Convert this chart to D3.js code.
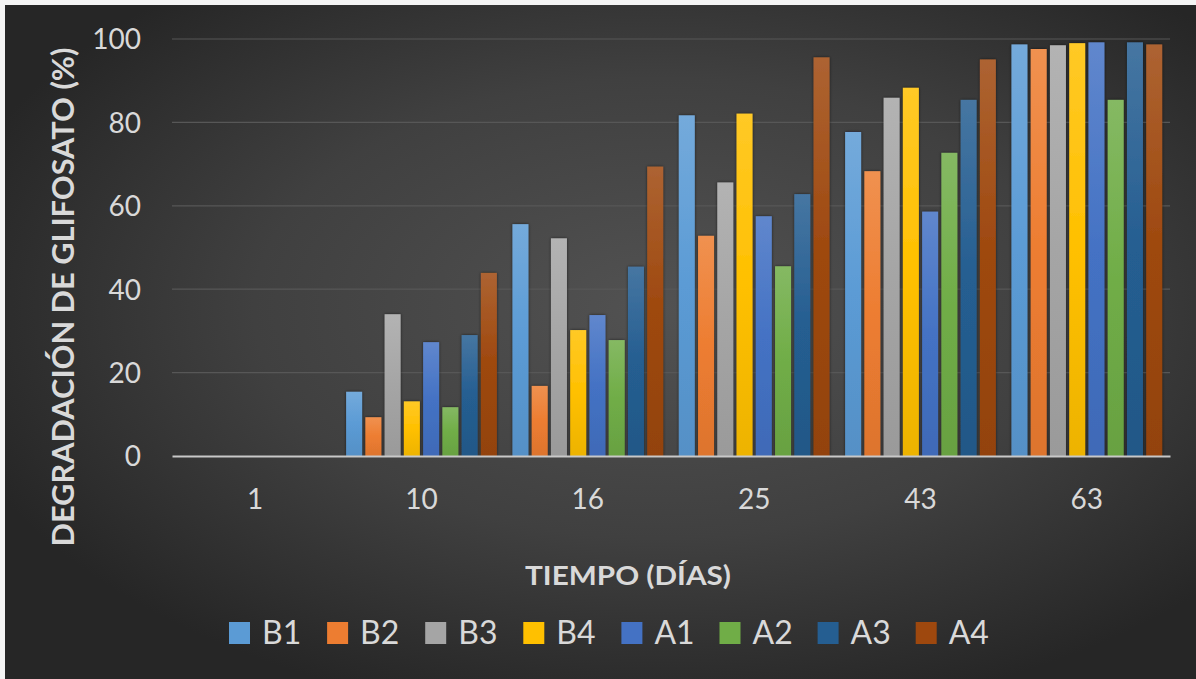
<!DOCTYPE html>
<html>
<head>
<meta charset="utf-8">
<script src="https://cdn.jsdelivr.net/npm/d3@7"></script>
<style>
  body { margin: 0; background: #f4f4f4; }
  svg { display: block; }
</style>
</head>
<body>
<div id="chart-area"></div>
<script>
// data
const dias = ["1", "10", "16", "25", "43", "63"];
const series = ["B1", "B2", "B3", "B4", "A1", "A2", "A3", "A4"];
const colors = ["#5B9BD5", "#ED7D31", "#A5A5A5", "#FFC000", "#4472C4", "#70AD47", "#255E91", "#9E480E"];
const B1 = [0, 15.4, 55.6, 81.7, 77.7, 98.7];
const B2 = [0, 9.3, 16.8, 52.8, 68.3, 97.6];
const B3 = [0, 34.0, 52.2, 65.6, 85.9, 98.5];
const B4 = [0, 13.1, 30.2, 82.1, 88.3, 99.0];
const A1 = [0, 27.3, 33.8, 57.5, 58.6, 99.2];
const A2 = [0, 11.7, 27.8, 45.5, 72.7, 85.4];
const A3 = [0, 29.0, 45.4, 62.8, 85.4, 99.2];
const A4 = [0, 43.9, 69.4, 95.6, 95.1, 98.7];
const yTicks = [0, 20, 40, 60, 80, 100];

const values = [B1, B2, B3, B4, A1, A2, A3, A4];

const W = 1196, H = 679;
const plot = { left: 172, right: 1170, top: 39, bottom: 456 };
const textColor = "#d9d9d9";
const font = "Lato, 'Open Sans', sans-serif";

var svg = d3.select("#chart-area")
	.append("svg")
		.attr("width", W)
		.attr("height", H);

var defs = svg.append("defs");

// background radial gradient
var bg = defs.append("radialGradient")
	.attr("id", "bg")
	.attr("cx", "55%").attr("cy", "45%").attr("r", "62%");
bg.append("stop").attr("offset", "0%").attr("stop-color", "#525252");
bg.append("stop").attr("offset", "55%").attr("stop-color", "#404040");
bg.append("stop").attr("offset", "100%").attr("stop-color", "#262626");

// bar gradients
series.forEach((s, i) => {
	var c = d3.color(colors[i]);
	var g = defs.append("linearGradient")
		.attr("id", "grad-" + s)
		.attr("x1", 0).attr("y1", 0).attr("x2", 0).attr("y2", 1);
	g.append("stop").attr("offset", "0%").attr("stop-color", d3.interpolateRgb(c, "#fff")(0.15));
	g.append("stop").attr("offset", "50%").attr("stop-color", c);
	g.append("stop").attr("offset", "100%").attr("stop-color", c.darker(0.2));
});

var shadow = defs.append("filter").attr("id", "shadow")
	.attr("x", "-30%").attr("y", "-5%").attr("width", "160%").attr("height", "110%");
shadow.append("feDropShadow")
	.attr("dx", 0).attr("dy", 0)
	.attr("stdDeviation", 1.6)
	.attr("flood-color", "#000")
	.attr("flood-opacity", 0.6);

svg.append("rect")
	.attr("x", 5).attr("y", 5)
	.attr("width", W - 5).attr("height", H - 5)
	.attr("fill", "url(#bg)");

// scales
var x0 = d3.scaleBand()
	.domain(dias)
	.range([plot.left, plot.right]);

var bw = x0.bandwidth();
var x1 = d3.scaleBand()
	.domain(series)
	.range([7.8, bw - 7.8])
	.paddingInner(0.17);

var y = d3.scaleLinear()
	.domain([0, 100])
	.range([plot.bottom, plot.top]);

// gridlines
svg.append("g")
	.selectAll("line")
	.data(yTicks.filter(d => d > 0))
	.enter()
	.append("line")
		.attr("x1", plot.left).attr("x2", plot.right)
		.attr("y1", d => y(d)).attr("y2", d => y(d))
		.attr("stroke", "#575757")
		.attr("stroke-width", 1.2);

// y-axis
var yAxisCall = d3.axisLeft(y).tickValues(yTicks).tickSize(0).tickPadding(0);
var yAxis = svg.append("g")
	.attr("transform", "translate(141, 0)")
	.call(yAxisCall);
yAxis.select(".domain").remove();
yAxis.selectAll("text")
	.attr("fill", textColor)
	.attr("font-family", font)
	.attr("font-size", 28)
	.attr("dy", "0.35em");

// bars
var groups = svg.append("g")
	.selectAll("g")
	.data(dias)
	.enter()
	.append("g")
		.attr("transform", d => "translate(" + x0(d) + ", 0)");

groups.selectAll("rect")
	.data((d, j) => series.map((s, i) => ({ s: s, v: values[i][j] })))
	.enter()
	.append("rect")
		.filter(d => d.v > 0)
		.attr("x", d => x1(d.s))
		.attr("y", d => y(d.v))
		.attr("width", x1.bandwidth())
		.attr("height", d => y(0) - y(d.v))
		.attr("fill", d => "url(#grad-" + d.s + ")")
		.attr("filter", "url(#shadow)");

// x-axis
var xAxisCall = d3.axisBottom(x0).tickSize(0).tickPadding(0);
var xAxis = svg.append("g")
	.attr("transform", "translate(0, " + y(0) + ")")
	.call(xAxisCall);
xAxis.select(".domain")
	.attr("stroke", "#c8c8c8")
	.attr("stroke-width", 2.2);
xAxis.selectAll("text")
	.attr("fill", textColor)
	.attr("font-family", font)
	.attr("font-size", 28)
	.attr("dy", 0)
	.attr("y", 53);

// y-label
svg.append("text")
	.attr("x", -297)
	.attr("y", 74)
	.attr("transform", "rotate(-90)")
	.attr("text-anchor", "middle")
	.attr("fill", textColor)
	.attr("font-family", font)
	.attr("font-weight", "bold")
	.attr("font-size", 30)
	.attr("textLength", 499)
	.attr("lengthAdjust", "spacingAndGlyphs")
	.text("DEGRADACIÓN DE GLIFOSATO (%)");

// x-label
svg.append("text")
	.attr("x", 628)
	.attr("y", 585)
	.attr("text-anchor", "middle")
	.attr("fill", textColor)
	.attr("font-family", font)
	.attr("font-weight", "bold")
	.attr("font-size", 27)
	.attr("textLength", 206)
	.attr("lengthAdjust", "spacingAndGlyphs")
	.text("TIEMPO (DÍAS)");

// legend
var legend = svg.append("g")
	.selectAll("g")
	.data(series)
	.enter()
	.append("g")
		.attr("transform", (d, i) => "translate(" + (229 + i * 98.1) + ", 622)");

legend.append("rect")
	.attr("width", 21)
	.attr("height", 22)
	.attr("fill", (d, i) => colors[i]);

legend.append("text")
	.attr("x", 33)
	.attr("y", 22)
	.attr("fill", textColor)
	.attr("font-family", font)
	.attr("font-size", 32)
	.text(d => d);
</script>
</body>
</html>
